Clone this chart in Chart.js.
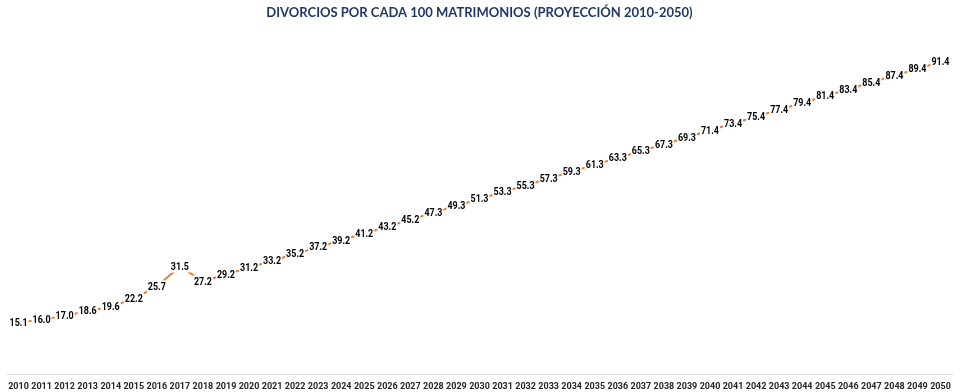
<!DOCTYPE html>
<html>
<head>
<meta charset="utf-8">
<script src="https://cdn.jsdelivr.net/npm/chart.js@4/dist/chart.umd.min.js"></script>
<style>
html,body{margin:0;padding:0;background:#fff;}
#wrap{width:960px;height:392px;position:relative;}
</style>
</head>
<body>
<div id="wrap"><canvas id="c" width="960" height="392"></canvas></div>
<script>
const years = ["2010","2011","2012","2013","2014","2015","2016","2017","2018","2019","2020","2021","2022","2023","2024","2025","2026","2027","2028","2029","2030","2031","2032","2033","2034","2035","2036","2037","2038","2039","2040","2041","2042","2043","2044","2045","2046","2047","2048","2049","2050"];
const divorcios = [15.1,16.0,17.0,18.6,19.6,22.2,25.7,31.5,27.2,29.2,31.2,33.2,35.2,37.2,39.2,41.2,43.2,45.2,47.3,49.3,51.3,53.3,55.3,57.3,59.3,61.3,63.3,65.3,67.3,69.3,71.4,73.4,75.4,77.4,79.4,81.4,83.4,85.4,87.4,89.4,91.4];
const titleText = "DIVORCIOS POR CADA 100 MATRIMONIOS (PROYECCIÓN 2010-2050)";

const labelPlugin = {
  id: 'centerLabels',
  afterDatasetsDraw(chart) {
    const ctx = chart.ctx;
    const meta = chart.getDatasetMeta(0);
    const ds = chart.data.datasets[0];
    ctx.save();
    ctx.font = "bold 11px Roboto";
    ctx.textAlign = "center";
    ctx.textBaseline = "middle";
    meta.data.forEach((pt, i) => {
      const txt = ds.data[i].toFixed(1);
      const w = Math.min(ctx.measureText(txt).width, 18);
      ctx.fillStyle = "#ffffff";
      ctx.fillRect(pt.x - w/2 - 1, pt.y - 6, w + 2, 12);
      ctx.fillStyle = "#000000";
      ctx.fillText(txt, pt.x, pt.y + 0.5, 18);
    });
    ctx.restore();
  }
};

new Chart(document.getElementById('c'), {
  type: 'line',
  data: {
    labels: years,
    datasets: [{
      data: divorcios,
      borderColor: '#ED7D31',
      backgroundColor: '#ED7D31',
      borderWidth: 2,
      pointRadius: 0,
      pointHoverRadius: 0,
      tension: 0,
      fill: false
    }]
  },
  options: {
    responsive: false,
    animation: false,
    layout: { autoPadding: false, padding: { left: 7, right: 8, top: 0, bottom: -7 } },
    plugins: {
      legend: { display: false },
      tooltip: { enabled: false },
      title: {
        display: true,
        text: titleText,
        color: '#1F3864',
        font: { family: 'Lato', size: 13, weight: 'bold' },
        padding: { top: 5, bottom: 12 }
      }
    },
    scales: {
      x: {
        offset: true,
        grid: { display: false, drawTicks: false, tickLength: 0 },
        border: { display: true, color: '#D9D9D9', width: 1 },
        ticks: {
          color: '#262626',
          font: { family: 'Roboto', size: 9, weight: 'bold' },
          maxRotation: 0,
          autoSkip: false,
          padding: 7
        }
      },
      y: {
        display: false,
        min: 0,
        max: 100
      }
    }
  },
  plugins: [labelPlugin]
});
</script>
</body>
</html>
